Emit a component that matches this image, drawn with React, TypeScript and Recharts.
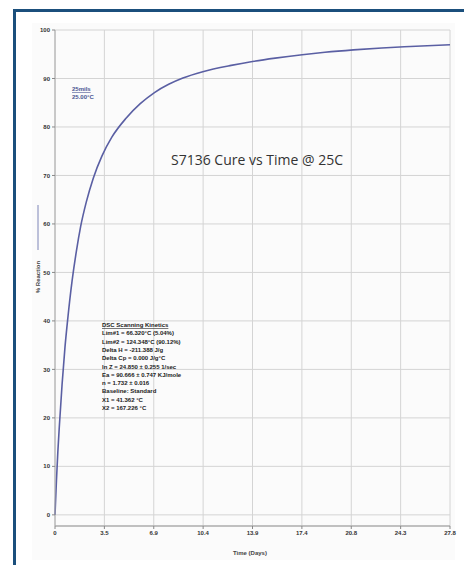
import { LineChart, Line, XAxis, YAxis, CartesianGrid } from 'recharts';

// time in days vs % reaction
const days = [0, 0.1, 0.2, 0.3, 0.5, 0.7, 0.9, 1.2, 1.5, 1.8, 2.2, 2.7, 3.3, 4.0, 5.0, 6.0, 7.0, 8.0, 9.0, 10.4, 12.4, 13.9, 15.5, 17.4, 19.0, 21.0, 23.0, 25.0, 27.8];
const reaction = [0, 7, 13, 18, 27, 34.5, 40.5, 48.2, 54.3, 59.4, 64.5, 69.5, 74.0, 77.9, 81.8, 84.8, 87.1, 88.8, 90.1, 91.4, 92.7, 93.5, 94.2, 94.9, 95.4, 95.9, 96.3, 96.6, 96.95];

const xTicks = [0, 3.475, 6.95, 10.425, 13.9, 17.375, 20.85, 24.325, 27.8];
const xTickLabels = ['0', '3.5', '6.9', '10.4', '13.9', '17.4', '20.8', '24.3', '27.8'];
const yTicks = [0, 10, 20, 30, 40, 50, 60, 70, 80, 90, 100];

const kinetics = [
  'DSC Scanning Kinetics',
  'Lim#1 = 66.320°C (5.04%)',
  'Lim#2 = 124.348°C (90.12%)',
  'Delta H = -211.388 J/g',
  'Delta Cp = 0.000 J/g°C',
  'ln Z = 24.850 ± 0.255 1/sec',
  'Ea = 90.666 ± 0.747 KJ/mole',
  'n = 1.732 ± 0.016',
  'Baseline: Standard',
  'X1 = 41.362 °C',
  'X2 = 167.226 °C',
];
const legendLines = ['25mils', '25.00°C'];

const data = days.map((d, i) => ({ day: d, pct: reaction[i] }));

const tickStyle = { fontSize: 6, fill: '#333', fontFamily: 'Liberation Sans', fontWeight: 'bold' as const };

export default function App() {
  return (
    <div style={{ position: 'absolute', top: 0, left: 0, width: 464, height: 565, background: '#fff', overflow: 'hidden' }}>
      {/* frame of the card */}
      <div style={{ position: 'absolute', left: 13, top: 9, right: 0, height: 3, background: '#1b4f7c' }} />
      <div style={{ position: 'absolute', left: 13, top: 9, bottom: 0, width: 3, background: '#1b4f7c' }} />
      <div style={{ position: 'absolute', left: 32, top: 23, width: 423, height: 537, background: '#fbfbfb' }} />

      <div style={{ position: 'absolute', top: 0, left: 0 }}>
        <LineChart width={464} height={565} data={data} margin={{ top: 30, right: 14, bottom: 9, left: 25 }}>
          <CartesianGrid stroke="#d4d4d4" strokeWidth={1} />
          <XAxis
            dataKey="day"
            type="number"
            domain={[0, 27.8]}
            ticks={xTicks}
            tickFormatter={(v: number) => xTickLabels[xTicks.indexOf(v)] ?? ''}
            height={30}
            tick={tickStyle}
            tickLine={{ stroke: '#888' }}
            tickSize={3}
            axisLine={{ stroke: '#999' }}
            interval={0}
          />
          <YAxis
            type="number"
            domain={[-2.3, 100]}
            ticks={yTicks}
            width={30}
            tick={tickStyle}
            tickLine={{ stroke: '#888' }}
            tickSize={3}
            axisLine={{ stroke: '#aaa' }}
            interval={0}
          />
          <Line
            type="monotone"
            dataKey="pct"
            stroke="#5a5fa3"
            strokeWidth={1.6}
            dot={false}
            isAnimationActive={false}
          />
        </LineChart>
      </div>

      <svg width={464} height={565} style={{ position: 'absolute', top: 0, left: 0, pointerEvents: 'none' }}>
        <text x={257} y={165} textAnchor="middle" fontFamily="Open Sans" fontSize={14} fill="#333">
          S7136 Cure vs Time @ 25C
        </text>
        <text x={250} y={555} textAnchor="middle" fontFamily="Liberation Sans" fontSize={6} fontWeight="bold" fill="#444">
          Time (Days)
        </text>
        <g transform="translate(40 277) rotate(-90)">
          <text x={0} y={0} textAnchor="middle" fontFamily="Liberation Sans" fontSize={6} fontWeight="bold" fill="#444">
            % Reaction
          </text>
        </g>
        <line x1={38} y1={205} x2={38} y2={250} stroke="#7f86b8" strokeWidth={1} />
        {legendLines.map((t, i) => (
          <text key={t} x={72} y={91 + i * 8} fontFamily="Liberation Sans" fontSize={6} fontWeight="bold" fill="#4a5592"
            textDecoration={i === 0 ? 'underline' : undefined}>
            {t}
          </text>
        ))}
        {kinetics.map((t, i) => (
          <text key={t} x={102} y={327 + i * 8.3} fontFamily="Liberation Sans" fontSize={6} fontWeight="bold" fill="#222"
            textDecoration={i === 0 ? 'underline' : undefined}>
            {t}
          </text>
        ))}
      </svg>
    </div>
  );
}
